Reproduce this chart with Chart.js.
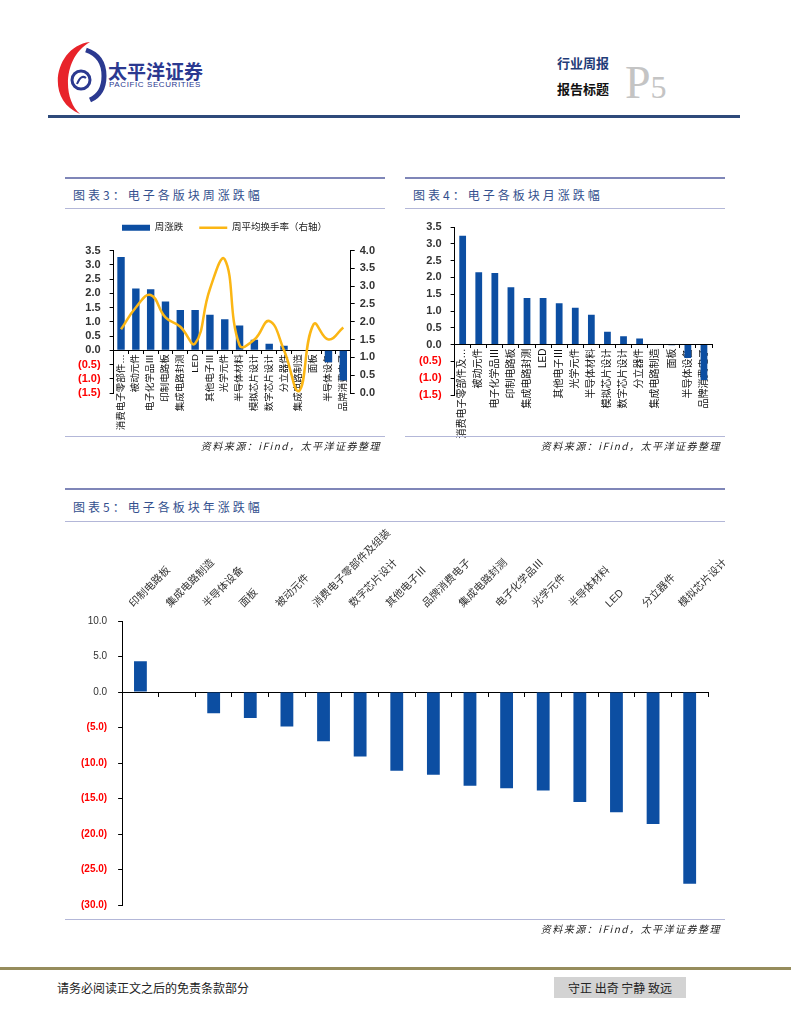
<!DOCTYPE html>
<html>
<head>
<meta charset="utf-8">
<script src="https://cdn.jsdelivr.net/npm/chart.js@4.4.0/dist/chart.umd.min.js"></script>
<style>
body { margin: 0; background: #fff; font-family: "Noto Sans CJK SC", sans-serif; }
#page { position: relative; width: 791px; height: 1024px; overflow: hidden; background: #fff; }
.abs { position: absolute; }
.rule-top { position: absolute; height: 2px; background: #7f86b8; }
.rule { position: absolute; height: 1px; background: #b3b7d8; }
.title { position: absolute; font-size: 12px; color: #33508e; letter-spacing: 3px; white-space: nowrap; }
.src { position: absolute; font-size: 10px; font-style: italic; color: #222; text-align: right; letter-spacing: 1.5px; white-space: nowrap; }
</style>
</head>
<body>
<div id="page">

  <!-- header -->
  <svg class="abs" style="left:50px;top:38px" width="60" height="80" viewBox="50 38 60 80">
    <path d="M90 42 C55 46 44 100 80 114 C63 100 62 58 90 42 Z" fill="#e8232a"/>
    <path d="M86 50 Q104 56 104 76 Q104 94 90 100" fill="none" stroke="#2b3990" stroke-width="5"/>
    <circle cx="81" cy="80" r="9" fill="none" stroke="#2b3990" stroke-width="3"/>
    <path d="M77 84 Q81 74 86 78" fill="none" stroke="#2b3990" stroke-width="2"/>
  </svg>
  <div class="abs" style="left:108px;top:57px;font-size:19px;font-weight:bold;color:#2b3990;">太平洋证券</div>
  <div class="abs" style="left:109px;top:80px;font-size:8px;letter-spacing:0.6px;color:#2b3990;font-family:'Liberation Sans';">PACIFIC SECURITIES</div>
  <div class="abs" style="left:557px;top:53px;font-size:13px;font-weight:bold;color:#1f3c78;">行业周报</div>
  <div class="abs" style="left:557px;top:79px;font-size:13px;font-weight:bold;color:#111;">报告标题</div>
  <div class="abs" style="left:625px;top:56px;font-family:'Liberation Serif';color:#c4c4c4;font-size:46px;">P<span style="font-size:32px;">5</span></div>
  <div class="abs" style="left:48px;top:115px;width:692px;height:3px;background:#2e4a7a;"></div>

  <!-- chart 3 panel -->
  <div class="rule-top" style="left:65px;top:177px;width:320px;"></div>
  <div class="title" style="left:73px;top:186px;">图表3：电子各版块周涨跌幅</div>
  <div class="rule" style="left:65px;top:208px;width:320px;"></div>
  <div class="abs" style="left:65px;top:207px;width:320px;height:238px;">
    <canvas id="weekChart" width="320" height="238"></canvas>
  </div>
  <div class="rule" style="left:65px;top:436px;width:320px;"></div>
  <div class="src" style="left:65px;top:438px;width:316px;">资料来源：iFind，太平洋证券整理</div>

  <!-- chart 4 panel -->
  <div class="rule-top" style="left:405px;top:177px;width:320px;"></div>
  <div class="title" style="left:413px;top:186px;">图表4：电子各板块月涨跌幅</div>
  <div class="rule" style="left:405px;top:208px;width:320px;"></div>
  <div class="abs" style="left:405px;top:210px;width:320px;height:235px;">
    <canvas id="monthChart" width="320" height="235"></canvas>
  </div>
  <div class="rule" style="left:405px;top:436px;width:320px;"></div>
  <div class="src" style="left:405px;top:438px;width:316px;">资料来源：iFind，太平洋证券整理</div>

  <!-- chart 5 panel -->
  <div class="rule-top" style="left:65px;top:488px;width:660px;"></div>
  <div class="title" style="left:73px;top:498px;">图表5：电子各板块年涨跌幅</div>
  <div class="rule" style="left:65px;top:521px;width:660px;"></div>
  <div class="abs" style="left:65px;top:518px;width:660px;height:404px;overflow:hidden;">
    <canvas id="yearChart" width="700" height="404"></canvas>
  </div>
  <div class="rule" style="left:65px;top:919px;width:660px;"></div>
  <div class="src" style="left:65px;top:921px;width:656px;">资料来源：iFind，太平洋证券整理</div>

  <!-- footer -->
  <div class="abs" style="left:0;top:967px;width:791px;height:3px;background:#968c5c;"></div>
  <div class="abs" style="left:57px;top:979px;font-size:12px;color:#222;">请务必阅读正文之后的免责条款部分</div>
  <div class="abs" style="left:554px;top:977px;width:132px;height:21px;background:#d3d3d3;font-size:12px;color:#222;text-align:center;line-height:21px;">守正 出奇 宁静 致远</div>
</div>

<script>
// 周涨跌 / 周平均换手率
const weekCategories = ['消费电子零部件及组装', '被动元件', '电子化学品Ⅲ', '印制电路板', '集成电路封测', 'LED', '其他电子Ⅲ', '光学元件', '半导体材料', '模拟芯片设计', '数字芯片设计', '分立器件', '集成电路制造', '面板', '半导体设备', '品牌消费电子'];
const weekChange = [3.27, 2.17, 2.14, 1.71, 1.41, 1.41, 1.25, 1.09, 0.87, 0.37, 0.23, 0.16, 0.0, -0.02, -0.42, -1.05];
const weekTurnover = [1.79, 2.40, 2.75, 2.12, 1.86, 1.39, 2.92, 3.75, 1.34, 1.50, 2.02, 1.20, 0.05, 1.93, 1.50, 1.84];

// 月涨跌
const monthCategories = ['消费电子零部件及组装', '被动元件', '电子化学品Ⅲ', '印制电路板', '集成电路封测', 'LED', '其他电子Ⅲ', '光学元件', '半导体材料', '模拟芯片设计', '数字芯片设计', '分立器件', '集成电路制造', '面板', '半导体设备', '品牌消费电子'];
const monthChange = [3.24, 2.15, 2.13, 1.71, 1.39, 1.39, 1.23, 1.10, 0.89, 0.38, 0.25, 0.18, 0.0, -0.02, -0.40, -1.05];

// 年涨跌
const yearCategories = ['印制电路板', '集成电路制造', '半导体设备', '面板', '被动元件', '消费电子零部件及组装', '数字芯片设计', '其他电子Ⅲ', '品牌消费电子', '集成电路封测', '电子化学品Ⅲ', '光学元件', '半导体材料', 'LED', '分立器件', '模拟芯片设计'];
const yearChange = [4.35, 0.0, -2.99, -3.64, -4.86, -6.92, -9.07, -11.07, -11.64, -13.18, -13.55, -13.88, -15.47, -16.92, -18.6, -27.0];

// axis ranges [min, max, step]
const weekLeftAxis = [-1.5, 3.5, 0.5];
const weekRightAxis = [0, 4, 0.5];
const yearAxis = [-30, 10, 5];

const BLUE = '#0c4ea2';
const ORANGE = '#fbb614';
const LATIN_CJK = '"Liberation Sans", "Noto Sans CJK SC", sans-serif';

function fmtTick(v) {
    return v < 0 ? '(' + Math.abs(v).toFixed(1) + ')' : v.toFixed(1);
}
function tickColor(ctx) {
    return ctx.tick && ctx.tick.value < 0 ? '#ff0000' : '#333';
}
function shortLabel(n) {
    return function (value) {
        const l = this.getLabelForValue(value);
        return l.length > n + 1 ? l.slice(0, n) + '…' : l;
    };
}

function valueAxis(range, position, pad) {
    return {
        position: position,
        min: range[0],
        max: range[1],
        ticks: {
            stepSize: range[2],
            autoSkip: false,
            color: tickColor,
            font: { family: 'Liberation Sans', size: 11, weight: 'bold' },
            padding: pad,
            callback: v => fmtTick(v)
        },
        grid: { display: true, drawOnChartArea: false, tickLength: 4, color: '#000' },
        border: { color: '#000' }
    };
}

function categoryAxisAtZero(n, size) {
    return {
        position: { y: 0 },
        offset: true,
        ticks: {
            autoSkip: false,
            minRotation: 90,
            maxRotation: 90,
            padding: 1,
            color: '#111',
            font: { family: LATIN_CJK, size: size },
            callback: shortLabel(n)
        },
        grid: { display: true, offset: true, drawOnChartArea: false, tickLength: 3, color: '#000' },
        border: { color: '#000' }
    };
}

// extra room under the legend
const legendGap = {
    id: 'legendGap',
    beforeInit(chart) {
        const fit = chart.legend.fit;
        chart.legend.fit = function () {
            fit.call(this);
            this.height += 8;
        };
    }
};

new Chart(document.getElementById('weekChart'), {
    type: 'bar',
    data: {
        labels: weekCategories,
        datasets: [{
            label: '周涨跌',
            data: weekChange,
            backgroundColor: BLUE,
            borderWidth: 0,
            barPercentage: 0.5,
            categoryPercentage: 1,
            pointStyle: 'rect',
            yAxisID: 'y',
            order: 1
        }, {
            type: 'line',
            label: '周平均换手率（右轴）',
            data: weekTurnover,
            borderColor: ORANGE,
            backgroundColor: ORANGE,
            borderWidth: 2.5,
            pointRadius: 0,
            pointStyle: 'line',
            tension: 0.45,
            yAxisID: 'y1',
            order: 0
        }]
    },
    plugins: [legendGap],
    options: {
        responsive: false,
        animation: false,
        layout: { padding: { left: 4, right: 5, top: 0, bottom: 52 } },
        plugins: {
            tooltip: { enabled: false },
            legend: {
                position: 'top',
                labels: {
                    usePointStyle: true,
                    pointStyleWidth: 28,
                    boxHeight: 6,
                    padding: 16,
                    color: '#222',
                    font: { family: LATIN_CJK, size: 9.5 },
                    sort: (a, b) => a.datasetIndex - b.datasetIndex
                }
            }
        },
        scales: {
            x: categoryAxisAtZero(7, 9.5),
            y: valueAxis(weekLeftAxis, 'left', 9),
            y1: valueAxis(weekRightAxis, 'right', 5)
        }
    }
});

new Chart(document.getElementById('monthChart'), {
    type: 'bar',
    data: {
        labels: monthCategories,
        datasets: [{
            label: '月涨跌',
            data: monthChange,
            backgroundColor: BLUE,
            borderWidth: 0,
            barPercentage: 0.42,
            categoryPercentage: 1
        }]
    },
    options: {
        responsive: false,
        animation: false,
        layout: { padding: { left: 5, right: 13, top: 17, bottom: 50 } },
        plugins: { legend: { display: false }, tooltip: { enabled: false } },
        scales: {
            x: categoryAxisAtZero(8, 10),
            y: valueAxis(weekLeftAxis, 'left', 9)
        }
    }
});

const yearValueAxis = valueAxis(yearAxis, 'left', 11);
yearValueAxis.ticks.font = ctx => ({ family: 'Liberation Sans', size: 10, weight: ctx.tick && ctx.tick.value < 0 ? 'bold' : 'normal' });

new Chart(document.getElementById('yearChart'), {
    type: 'bar',
    data: {
        labels: yearCategories,
        datasets: [{
            label: '年涨跌',
            data: yearChange,
            backgroundColor: BLUE,
            borderWidth: 0,
            barPercentage: 0.35,
            categoryPercentage: 1
        }]
    },
    options: {
        responsive: false,
        animation: false,
        layout: { padding: { left: 5, right: 57, top: 6, bottom: 6 } },
        plugins: { legend: { display: false }, tooltip: { enabled: false } },
        scales: {
            x: {
                position: 'top',
                offset: true,
                ticks: {
                    autoSkip: false,
                    minRotation: 45,
                    maxRotation: 45,
                    padding: 3,
                    color: '#333',
                    font: { family: LATIN_CJK, size: 10.5 }
                },
                grid: { display: false },
                border: { display: false }
            },
            x2: {
                position: { y: 0 },
                offset: true,
                ticks: { display: false },
                grid: { display: true, offset: true, drawOnChartArea: false, tickLength: 4, color: '#000' },
                border: { color: '#000' }
            },
            y: yearValueAxis
        }
    }
});
</script>
</body>
</html>
